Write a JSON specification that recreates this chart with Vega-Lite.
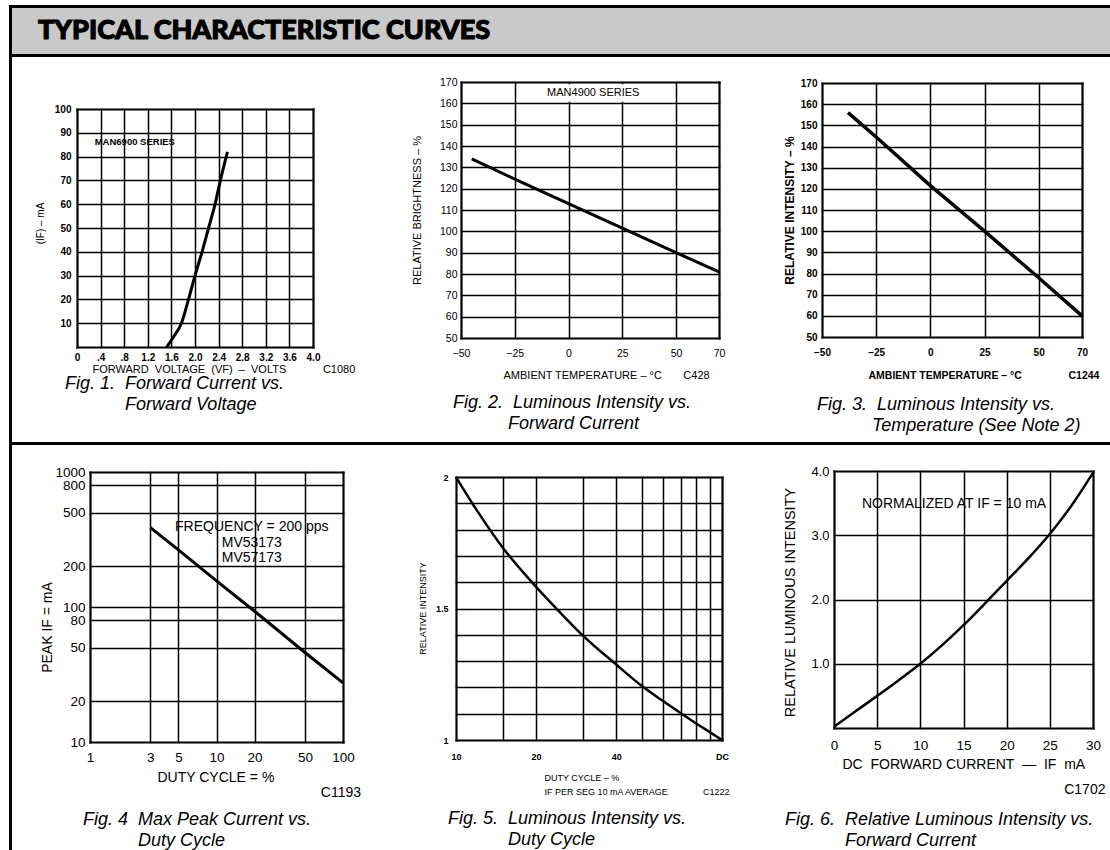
{
  "$schema": "https://vega.github.io/schema/vega-lite/v6.json",
  "padding": {"left": 9, "top": 5, "right": 0, "bottom": 0},
  "background": "white",
  "columns": 4,
  "spacing": 0,
  "bounds": "flush",
  "config": {
    "view": {"stroke": null},
    "font": "Liberation Sans",
    "axis": {"domain": false, "ticks": false, "grid": true, "gridColor": "black", "gridOpacity": 1, "gridWidth": 1.5, "gridCap": "square", "labelColor": "black", "titleColor": "black", "labelFont": "Liberation Sans", "titleFont": "Liberation Sans", "labelFlush": false, "labelOverlap": false, "labelBound": false, "titleFontWeight": "normal", "titlePadding": 0},
    "title": {"orient": "bottom", "anchor": "start", "frame": "group", "font": "Liberation Sans", "fontStyle": "italic", "fontWeight": "normal", "fontSize": 18, "color": "black", "baseline": "top", "lineHeight": 21}
  },
  "concat": [
    {"width": 3, "height": 3, "view": {"fill": "black"}, "mark": "point", "data": {"values": []}},
    {"width": 388, "height": 3, "view": {"fill": "black"}, "mark": "point", "data": {"values": []}},
    {"width": 370, "height": 3, "view": {"fill": "black"}, "mark": "point", "data": {"values": []}},
    {"width": 340, "height": 3, "view": {"fill": "black"}, "mark": "point", "data": {"values": []}},

    {"width": 3, "height": 46, "view": {"fill": "black"}, "mark": "point", "data": {"values": []}},
    {"width": 388, "height": 46, "view": {"fill": "#c9c9c9"}, "mark": "point", "data": {"values": []}},
    {
      "width": 370, "height": 46,
      "view": {"fill": "#c9c9c9"},
      "data": {"values": [{"heading": "TYPICAL CHARACTERISTIC CURVES"}]},
      "mark": {"type": "text", "align": "left", "baseline": "middle", "font": "Lato", "fontWeight": 900, "fontSize": 27, "color": "black", "stroke": "black", "strokeWidth": 1.1},
      "encoding": {
        "text": {"field": "heading"},
        "x": {"datum": -362, "scale": {"domain": [0, 370]}, "axis": null},
        "y": {"datum": 0.5, "scale": {"domain": [0, 1]}, "axis": null}
      }
    },
    {"width": 340, "height": 46, "view": {"fill": "#c9c9c9"}, "mark": "point", "data": {"values": []}},

    {"width": 3, "height": 3, "view": {"fill": "black"}, "mark": "point", "data": {"values": []}},
    {"width": 388, "height": 3, "view": {"fill": "black"}, "mark": "point", "data": {"values": []}},
    {"width": 370, "height": 3, "view": {"fill": "black"}, "mark": "point", "data": {"values": []}},
    {"width": 340, "height": 3, "view": {"fill": "black"}, "mark": "point", "data": {"values": []}},

    {"width": 3, "height": 385, "view": {"fill": "black"}, "mark": "point", "data": {"values": []}},
    {
      "width": 388, "height": 342,
      "title": {"text": ["Fig. 1.\u00a0 Forward Current vs.", "\u200b\u00a0\u00a0\u00a0\u00a0\u00a0\u00a0\u00a0\u00a0\u00a0\u00a0\u00a0\u00a0Forward Voltage"], "dx": 53, "offset": -24},
      "encoding": {
        "x": {"field": "voltage", "type": "quantitative", "scale": {"domain": [0, 4], "nice": false, "zero": false, "range": [65, 301]},
          "axis": {"values": [0, 0.4, 0.8, 1.2, 1.6, 2, 2.4, 2.8, 3.2, 3.6, 4], "offset": -52, "gridWidth": {"condition": {"test": "datum.value == 0 || datum.value == 4", "value": 2.2}, "value": 1.5},
            "labelExpr": "datum.value == 0 ? '0' : datum.value < 1 ? '.' + round(datum.value * 10) : format(datum.value, '.1f')", "labelFontSize": 10, "labelFontWeight": "bold", "labelPadding": 5,
            "title": "FORWARD\u00a0 VOLTAGE\u00a0 (VF)\u00a0 \u2013\u00a0 VOLTS\u00a0\u00a0\u00a0\u00a0\u00a0\u00a0\u00a0\u00a0\u00a0\u00a0\u00a0 C1080", "titleFontSize": 11, "titleX": 80, "titleY": 22, "titleAlign": "left", "titleBaseline": "middle"}},
        "y": {"field": "current", "type": "quantitative", "scale": {"domain": [0, 100], "nice": false, "zero": false, "range": [290, 52]},
          "axis": {"values": [0, 10, 20, 30, 40, 50, 60, 70, 80, 90, 100], "offset": -65, "gridWidth": {"condition": {"test": "datum.value == 0 || datum.value == 100", "value": 2.2}, "value": 1.5},
            "labelExpr": "datum.value == 0 ? '' : datum.label", "labelFontSize": 10, "labelFontWeight": "bold", "labelPadding": 6,
            "title": "(IF) \u2013 mA", "titleFontSize": 10, "titleX": -37, "titleY": 166, "titleAlign": "center", "titleBaseline": "middle"}}
      },
      "layer": [
        {
          "data": {"values": [
            {"voltage": 1.52, "current": 0}, {"voltage": 1.63, "current": 4}, {"voltage": 1.77, "current": 10},
            {"voltage": 1.89, "current": 20}, {"voltage": 2.0, "current": 30}, {"voltage": 2.12, "current": 40},
            {"voltage": 2.23, "current": 50}, {"voltage": 2.34, "current": 60}, {"voltage": 2.43, "current": 70},
            {"voltage": 2.55, "current": 82}
          ]},
          "mark": {"type": "line", "color": "black", "strokeWidth": 3, "interpolate": "monotone"}
        },
        {
          "data": {"values": [{"note": "MAN6900 SERIES", "voltage": 0.3, "current": 86}]},
          "mark": {"type": "text", "align": "left", "baseline": "middle", "fontSize": 9.5, "fontWeight": "bold", "color": "black"},
          "encoding": {"text": {"field": "note"}}
        }
      ]
    },
    {
      "width": 370, "height": 306,
      "title": {"text": ["Fig. 2.\u00a0 Luminous Intensity vs.", "\u200b\u00a0\u00a0\u00a0\u00a0\u00a0\u00a0\u00a0\u00a0\u00a0\u00a0\u00a0Forward Current"], "dx": 53, "offset": 14},
      "encoding": {
        "x": {"field": "temperature", "type": "quantitative", "scale": {"domain": [-50, 70], "nice": false, "zero": false, "range": [61, 319]},
          "axis": {"values": [-50, -25, 0, 25, 50, 70], "offset": -25, "gridWidth": {"condition": {"test": "datum.value == -50 || datum.value == 70", "value": 2.2}, "value": 1.5},
            "labelFontSize": 10.5, "labelPadding": 10,
            "title": "AMBIENT TEMPERATURE \u2013 \u00b0C\u00a0\u00a0\u00a0\u00a0\u00a0\u00a0 C428", "titleFontSize": 11, "titleX": 103, "titleY": 37, "titleAlign": "left", "titleBaseline": "middle"}},
        "y": {"field": "brightness", "type": "quantitative", "scale": {"domain": [50, 170], "nice": false, "zero": false, "range": [281, 25]},
          "axis": {"values": [50, 60, 70, 80, 90, 100, 110, 120, 130, 140, 150, 160, 170], "offset": -61, "gridWidth": {"condition": {"test": "datum.value == 50 || datum.value == 170", "value": 2.2}, "value": 1.5},
            "labelFontSize": 10.5, "labelPadding": 4,
            "title": "RELATIVE BRIGHTNESS \u2013 %", "titleFontSize": 11, "titleX": -44, "titleY": 153, "titleAlign": "center", "titleBaseline": "middle"}}
      },
      "layer": [
        {
          "data": {"values": [{"temperature": -12, "temperature_end": 35, "brightness": 160.7, "brightness_end": 169}]},
          "mark": {"type": "rect", "color": "white"},
          "encoding": {"x2": {"field": "temperature_end"}, "y2": {"field": "brightness_end"}}
        },
        {
          "data": {"values": [
            {"temperature": -45, "brightness": 134}, {"temperature": -25, "brightness": 124.5},
            {"temperature": 0, "brightness": 113}, {"temperature": 25, "brightness": 101.5},
            {"temperature": 50, "brightness": 90}, {"temperature": 70, "brightness": 81}
          ]},
          "mark": {"type": "line", "color": "black", "strokeWidth": 3}
        },
        {
          "data": {"values": [{"note": "MAN4900 SERIES", "temperature": 11.5, "brightness": 165}]},
          "mark": {"type": "text", "align": "center", "baseline": "middle", "fontSize": 11, "color": "black"},
          "encoding": {"text": {"field": "note"}}
        }
      ]
    },
    {
      "width": 340, "height": 306,
      "title": {"text": ["Fig. 3.\u00a0 Luminous Intensity vs.", "\u200b\u00a0\u00a0\u00a0\u00a0\u00a0\u00a0\u00a0\u00a0\u00a0\u00a0\u00a0Temperature (See Note 2)"], "dx": 47, "offset": 15},
      "encoding": {
        "x": {"field": "temperature", "type": "quantitative", "scale": {"domain": [-50, 70], "nice": false, "zero": false, "range": [52, 312]},
          "axis": {"values": [-50, -25, 0, 25, 50, 70], "offset": -26, "gridWidth": {"condition": {"test": "datum.value == -50 || datum.value == 70", "value": 2.2}, "value": 1.5},
            "labelFontSize": 10, "labelFontWeight": "bold", "labelPadding": 10,
            "title": "AMBIENT TEMPERATURE \u2013 \u00b0C\u00a0\u00a0\u00a0\u00a0\u00a0\u00a0\u00a0\u00a0\u00a0\u00a0\u00a0\u00a0\u00a0\u00a0\u00a0 C1244", "titleFontSize": 10.5, "titleFontWeight": "bold", "titleX": 98, "titleY": 38, "titleAlign": "left", "titleBaseline": "middle"}},
        "y": {"field": "intensity", "type": "quantitative", "scale": {"domain": [50, 170], "nice": false, "zero": false, "range": [280, 26]},
          "axis": {"values": [50, 60, 70, 80, 90, 100, 110, 120, 130, 140, 150, 160, 170], "offset": -52, "gridWidth": {"condition": {"test": "datum.value == 50 || datum.value == 170", "value": 2.2}, "value": 1.5},
            "labelFontSize": 10, "labelFontWeight": "bold", "labelPadding": 5,
            "title": "RELATIVE INTENSITY \u2013 %", "titleFontSize": 12, "titleFontWeight": "bold", "titleX": -33, "titleY": 153, "titleAlign": "center", "titleBaseline": "middle"}}
      },
      "layer": [
        {
          "data": {"values": [
            {"temperature": -38, "intensity": 156}, {"temperature": -25, "intensity": 144.5},
            {"temperature": 0, "intensity": 121.5}, {"temperature": 25, "intensity": 100},
            {"temperature": 50, "intensity": 78}, {"temperature": 70, "intensity": 60}
          ]},
          "mark": {"type": "line", "color": "black", "strokeWidth": 3.5}
        }
      ]
    },

    {"width": 3, "height": 3, "view": {"fill": "black"}, "mark": "point", "data": {"values": []}},
    {"width": 388, "height": 3, "view": {"fill": "black"}, "mark": "point", "data": {"values": []}},
    {"width": 370, "height": 3, "view": {"fill": "black"}, "mark": "point", "data": {"values": []}},
    {"width": 340, "height": 3, "view": {"fill": "black"}, "mark": "point", "data": {"values": []}},

    {"width": 3, "height": 405, "view": {"fill": "black"}, "mark": "point", "data": {"values": []}},
    {
      "width": 388, "height": 324,
      "title": {"text": ["Fig. 4\u00a0 Max Peak Current vs.", "\u200b\u00a0\u00a0\u00a0\u00a0\u00a0\u00a0\u00a0\u00a0\u00a0\u00a0\u00a0Duty Cycle"], "dx": 71, "offset": 12},
      "encoding": {
        "x": {"field": "duty", "type": "quantitative", "scale": {"type": "log", "domain": [1, 100], "nice": false, "range": [78, 331]},
          "axis": {"values": [1, 3, 5, 10, 20, 50, 100], "offset": -27, "gridWidth": {"condition": {"test": "datum.value == 1 || datum.value == 100", "value": 2.2}, "value": 1.5},
            "format": "d", "labelFontSize": 13.5, "labelPadding": 8,
            "title": ["DUTY CYCLE = %", "\u200b\u00a0\u00a0\u00a0\u00a0\u00a0\u00a0\u00a0\u00a0\u00a0\u00a0\u00a0\u00a0\u00a0\u00a0\u00a0\u00a0\u00a0\u00a0\u00a0\u00a0\u00a0\u00a0\u00a0\u00a0\u00a0\u00a0\u00a0\u00a0\u00a0\u00a0\u00a0\u00a0\u00a0\u00a0\u00a0\u00a0\u00a0\u00a0\u00a0\u00a0\u00a0\u00a0C1193"], "titleFontSize": 14, "titleLineHeight": 15, "titleX": 145, "titleY": 28, "titleAlign": "left", "titleBaseline": "top"}},
        "y": {"field": "peak", "type": "quantitative", "scale": {"type": "log", "domain": [10, 1000], "nice": false, "range": [297, 27]},
          "axis": {"values": [10, 20, 50, 80, 100, 200, 500, 800, 1000], "offset": -78, "gridWidth": {"condition": {"test": "datum.value == 10 || datum.value == 1000", "value": 2.2}, "value": 1.5},
            "format": "d", "labelFontSize": 13.5, "labelPadding": 5,
            "title": "PEAK IF = mA", "titleFontSize": 14, "titleX": -43, "titleY": 182, "titleAlign": "center", "titleBaseline": "middle"}}
      },
      "layer": [
        {
          "data": {"values": [
            {"duty": 3, "peak": 387}, {"duty": 5, "peak": 265}, {"duty": 10, "peak": 156},
            {"duty": 20, "peak": 93}, {"duty": 50, "peak": 46}, {"duty": 100, "peak": 27.4}
          ]},
          "mark": {"type": "line", "color": "black", "strokeWidth": 3}
        },
        {
          "data": {"values": [{"note": "FREQUENCY = 200 pps\nMV53173\nMV57173", "duty": 19, "peak": 441}]},
          "mark": {"type": "text", "align": "center", "baseline": "top", "fontSize": 14, "lineBreak": "\n", "lineHeight": 15.5, "color": "black"},
          "encoding": {"text": {"field": "note"}}
        }
      ]
    },
    {
      "width": 370, "height": 327,
      "title": {"text": ["Fig. 5.\u00a0 Luminous Intensity vs.", "\u200b\u00a0\u00a0\u00a0\u00a0\u00a0\u00a0\u00a0\u00a0\u00a0\u00a0\u00a0\u00a0Duty Cycle"], "dx": 48, "offset": 14},
      "encoding": {
        "x": {"field": "duty", "type": "quantitative", "scale": {"type": "log", "domain": [10, 100], "nice": false, "range": [56, 322]},
          "axis": {"values": [10, 15, 20, 30, 40, 50, 60, 70, 80, 90, 100], "offset": -32, "gridWidth": {"condition": {"test": "datum.value == 10 || datum.value == 100", "value": 2.2}, "value": 1.5},
            "labelExpr": "datum.value == 10 ? '10' : datum.value == 20 ? '20' : datum.value == 40 ? '40' : datum.value == 100 ? 'DC' : ''", "labelFontSize": 9, "labelFontWeight": "bold", "labelPadding": 12,
            "title": ["DUTY CYCLE \u2013 %", "IF PER SEG 10 mA AVERAGE\u00a0\u00a0\u00a0\u00a0\u00a0\u00a0\u00a0\u00a0\u00a0\u00a0\u00a0\u00a0\u00a0\u00a0C1222"], "titleFontSize": 9, "titleLineHeight": 14, "titleX": 144, "titleY": 33, "titleAlign": "left", "titleBaseline": "top"}},
        "y": {"field": "intensity", "type": "quantitative", "scale": {"domain": [1, 2], "nice": false, "zero": false, "range": [295, 32]},
          "axis": {"values": [1, 1.1, 1.2, 1.3, 1.4, 1.5, 1.6, 1.7, 1.8, 1.9, 2], "offset": -56, "gridWidth": {"condition": {"test": "datum.value == 1 || datum.value == 2", "value": 2.2}, "value": 1.5},
            "labelExpr": "datum.value == 1 ? '1' : datum.value == 1.5 ? '1.5' : datum.value == 2 ? '2' : ''", "labelFontSize": 9, "labelFontWeight": "bold", "labelPadding": 8,
            "title": "RELATIVE INTENSITY", "titleFontSize": 9, "titleX": -34, "titleY": 163, "titleAlign": "center", "titleBaseline": "middle"}}
      },
      "layer": [
        {
          "data": {"values": [
            {"duty": 10, "intensity": 2.0}, {"duty": 12, "intensity": 1.872}, {"duty": 15, "intensity": 1.731},
            {"duty": 20, "intensity": 1.582}, {"duty": 25, "intensity": 1.478}, {"duty": 30, "intensity": 1.397},
            {"duty": 40, "intensity": 1.287}, {"duty": 50, "intensity": 1.205}, {"duty": 60, "intensity": 1.148},
            {"duty": 70, "intensity": 1.102}, {"duty": 80, "intensity": 1.063}, {"duty": 90, "intensity": 1.03},
            {"duty": 100, "intensity": 1.0}
          ]},
          "mark": {"type": "line", "color": "black", "strokeWidth": 2.5, "interpolate": "monotone"}
        }
      ]
    },
    {
      "width": 340, "height": 309,
      "title": {"text": ["Fig. 6.\u00a0 Relative Luminous Intensity vs.", "\u200b\u00a0\u00a0\u00a0\u00a0\u00a0\u00a0\u00a0\u00a0\u00a0\u00a0\u00a0\u00a0Forward Current"], "dx": 15, "offset": 15},
      "encoding": {
        "x": {"field": "current", "type": "quantitative", "scale": {"domain": [0, 30], "nice": false, "zero": false, "range": [64, 323]},
          "axis": {"values": [0, 5, 10, 15, 20, 25, 30], "offset": -26, "gridWidth": {"condition": {"test": "datum.value == 0 || datum.value == 30", "value": 2.2}, "value": 1.5},
            "labelFontSize": 13.5, "labelPadding": 10,
            "title": ["DC\u00a0 FORWARD CURRENT\u00a0 \u2014\u00a0 IF\u00a0 mA", "\u200b\u00a0\u00a0\u00a0\u00a0\u00a0\u00a0\u00a0\u00a0\u00a0\u00a0\u00a0\u00a0\u00a0\u00a0\u00a0\u00a0\u00a0\u00a0\u00a0\u00a0\u00a0\u00a0\u00a0\u00a0\u00a0\u00a0\u00a0\u00a0\u00a0\u00a0\u00a0\u00a0\u00a0\u00a0\u00a0\u00a0\u00a0\u00a0\u00a0\u00a0\u00a0\u00a0\u00a0\u00a0\u00a0\u00a0\u00a0\u00a0\u00a0\u00a0\u00a0\u00a0\u00a0\u00a0\u00a0\u00a0\u00a0C1702"], "titleFontSize": 14, "titleLineHeight": 25, "titleX": 72, "titleY": 29, "titleAlign": "left", "titleBaseline": "top"}},
        "y": {"field": "relative", "type": "quantitative", "scale": {"domain": [0, 4], "nice": false, "zero": false, "range": [283, 26]},
          "axis": {"values": [0, 1, 2, 3, 4], "offset": -64, "gridWidth": {"condition": {"test": "datum.value == 0 || datum.value == 4", "value": 2.2}, "value": 1.5},
            "labelExpr": "datum.value == 0 ? '' : format(datum.value, '.1f')", "labelFontSize": 13, "labelPadding": 5,
            "title": "RELATIVE LUMINOUS INTENSITY", "titleFontSize": 14.5, "titleX": -44, "titleY": 157, "titleAlign": "center", "titleBaseline": "middle"}}
      },
      "layer": [
        {
          "data": {"values": [
            {"current": 0, "relative": 0.02}, {"current": 2.5, "relative": 0.26}, {"current": 5, "relative": 0.5},
            {"current": 7.5, "relative": 0.745}, {"current": 10, "relative": 1.0}, {"current": 12.5, "relative": 1.285},
            {"current": 15, "relative": 1.6}, {"current": 17.5, "relative": 1.94}, {"current": 20, "relative": 2.29},
            {"current": 22.5, "relative": 2.64}, {"current": 25, "relative": 3.02}, {"current": 27.5, "relative": 3.46},
            {"current": 30, "relative": 3.97}
          ]},
          "mark": {"type": "line", "color": "black", "strokeWidth": 2.5, "interpolate": "monotone"}
        },
        {
          "data": {"values": [{"note": "NORMALIZED AT IF = 10 mA", "current": 13.9, "relative": 3.49}]},
          "mark": {"type": "text", "align": "center", "baseline": "middle", "fontSize": 14, "color": "black"},
          "encoding": {"text": {"field": "note"}}
        }
      ]
    }
  ]
}
